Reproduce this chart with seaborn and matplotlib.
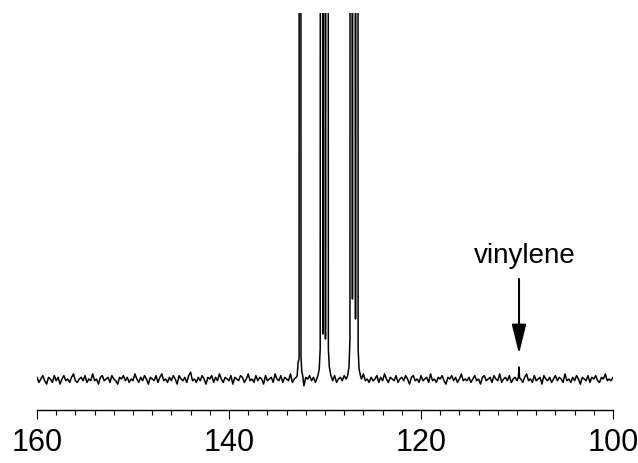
import numpy as np
import pandas as pd
import matplotlib
matplotlib.use("Agg")
import matplotlib.pyplot as plt
import seaborn as sns

# -------------------------------------------------------------------
# Data (intensity in arbitrary units, baseline = 0)
# -------------------------------------------------------------------

# baseline noise, one value every 0.2 ppm from 160 down to 100
baseline_noise = [
    1, -2, 0, 2, -1, -3, 1, 0, -2, 2, -1, 1, -3, 0, 2, -1, 0, -2, 1, 3, -1, -2, 0, 1, -1,
    2, -2, 0, -1, 3, -1, 0, -3, 1, 2, -1, 0, 1, -2, 2, 0, -1, -3, 1, 0, 2, -1, 1, -2, 0,
    -1, 3, 0, -2, 1, -1, 2, 0, -3, 1, 0, -1, 2, -2, 1, 3, -1, 0, -2, 1, -1, 2, 0, -3, 2,
    0, -1, 1, -2, 2, 4, -1, 0, -2, 1, -1, 2, 0, -3, 1, 0, 2, -2, 1, -1, 3, 0, -2, 1, 0,
    -1, 2, -3, 1, 0, -1, 2, 1, -2, 0, 3, -1, 0, -2, 2, -1, 1, 0, -3, 2, -1, 0, 1, -2, 3,
    0, -1, 2, -2, 1, 0, -1, 3, -2, 0, 1, -1, 2, 0, -4, 1, 0, 2, -1, 1, -2, 0, 2, -1, 0,
    1, -2, 3, 0, -1, 2, -2, 0, 1, -1, 2, 0, -3, 1, 0, -1, 2, -2, 1, 0, 3, -1, 0, -2, 1,
    -1, 0, 2, -2, 1, -1, 3, 0, -2, 1, 0, -1, 2, -2, 0, 1, -1, 2, 0, -3, 1, 2, -1, 0, -2,
    2, -1, 0, 1, -2, 3, -1, 0, -2, 1, 0, 2, -1, -3, 1, 0, 2, -1, 1, -2, 0, 3, -1, 0, -1,
    1, -2, 0, 2, -1, 0, -3, 1, 2, -1, 0, 1, -2, 2, 0, -1, 3, -2, 0, 1, -1, 2, -2, 0, 1,
    -1, 2, 0, -2, 1, 3, -1, 0, -2, 2, -1, 0, 1, -3, 2, 0, -1, 1, -2, 0, 2, -1, 1, 0, -2,
    3, -1, 0, -2, 1, -1, 2, 0, -3, 1, 0, -1, 2, -2, 1, 0, 2, -1, -2, 1, 0, 3, -1, 0, -1,
    1,
]
noise_scale = 1.7

# peak regions (ppm, intensity)
peak_ppm = [
    132.90, 132.80, 132.70, 132.60, 132.50, 132.42, 132.30,
    130.75, 130.60, 130.50, 130.36, 130.23, 130.10, 129.95, 129.79, 129.65, 129.55, 129.40,
    127.65, 127.50, 127.40, 127.29, 127.14, 126.98, 126.82, 126.67, 126.55, 126.45, 126.30,
    109.85, 109.79, 109.73,
]
peak_intensity = [
    3, 17, 20, 5000, 22, 8, 2,
    3, 10, 30, 5000, 45, 5000, 40, 5000, 30, 12, 4,
    3, 12, 40, 5000, 80, 5000, 60, 5000, 30, 10, 3,
    2, 12, 1,
]
peak_windows = [(132.95, 132.25), (130.80, 129.35), (127.70, 126.25), (109.90, 109.70)]

tick_major = [160, 140, 120, 100]
label_text = "vinylene"
label_ppm = 109.79


def build_spectrum():
    base_ppm = np.linspace(160, 100, len(baseline_noise))
    base_int = np.array(baseline_noise) * noise_scale
    keep = np.ones(len(base_ppm), dtype=bool)
    for hi, lo in peak_windows:
        keep &= ~((base_ppm <= hi) & (base_ppm >= lo))
    df = pd.DataFrame({
        "ppm": np.concatenate([base_ppm[keep], peak_ppm]),
        "intensity": np.concatenate([base_int[keep], peak_intensity]),
    })
    return df.sort_values("ppm", ascending=False).reset_index(drop=True)


def main():
    sns.set_theme(style="ticks")
    plt.rcParams["font.family"] = ["Liberation Sans", "DejaVu Sans"]

    fig = plt.figure(figsize=(6.38, 4.64), dpi=100)
    ax = fig.add_axes([0.058, 0.1142, 0.9028, 0.8556])

    df = build_spectrum()
    sns.lineplot(data=df, x="ppm", y="intensity", sort=False, estimator=None,
                 color="black", linewidth=1.1, ax=ax)

    ax.set_xlim(160, 100)
    ax.set_ylim(-31, 366)

    for side in ["top", "right", "left"]:
        ax.spines[side].set_visible(False)
    ax.spines["bottom"].set_linewidth(1.0)
    ax.spines["bottom"].set_color("black")
    ax.set_yticks([])
    ax.set_xticks(tick_major)
    ax.set_xticks(np.arange(100, 161, 2), minor=True)
    ax.tick_params(axis="x", which="major", length=6.5, width=0.8, direction="out",
                   labelsize=22, pad=6, color="black", labelcolor="black")
    ax.tick_params(axis="x", which="minor", length=3.3, width=0.8, direction="out",
                   color="black")
    ax.set_xlabel("")
    ax.set_ylabel("")

    ax.annotate("", xy=(label_ppm, 25), xytext=(label_ppm, 100),
                arrowprops=dict(arrowstyle="-|>,head_length=0.9,head_width=0.22",
                                mutation_scale=20, lw=1.5, color="black",
                                shrinkA=0, shrinkB=0))
    ax.text(109.17, 117, label_text, ha="center", va="baseline", fontsize=20,
            color="black")

    fig.savefig("out.png", dpi=100)
    plt.close(fig)


if __name__ == "__main__":
    main()
